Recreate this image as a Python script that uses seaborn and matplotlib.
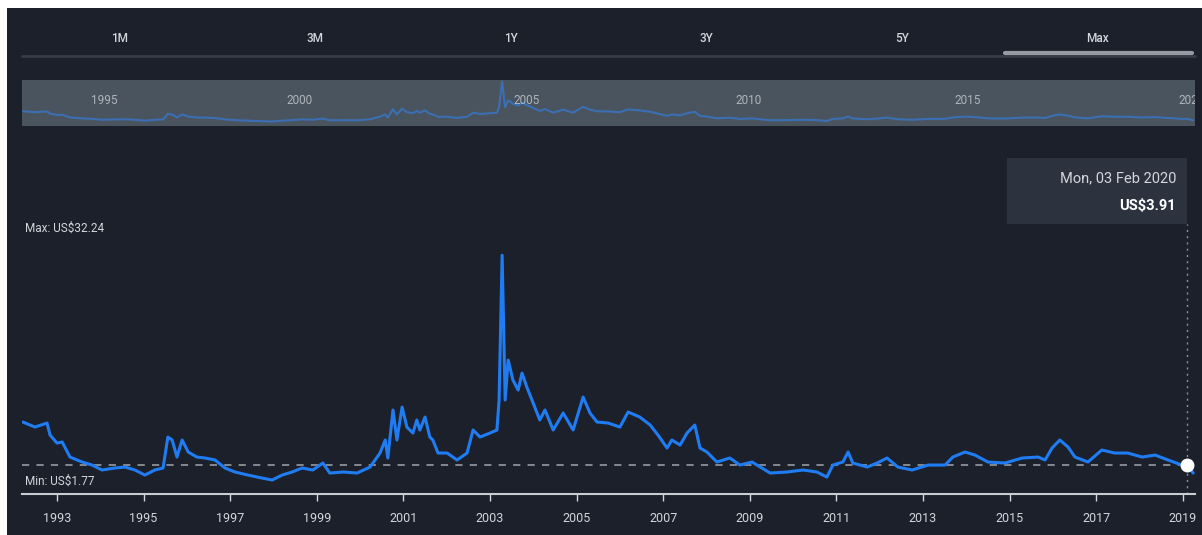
import pandas as pd
import seaborn as sns
import matplotlib.pyplot as plt
from matplotlib.lines import Line2D
from matplotlib.patches import Rectangle

# price history (x = position on the year axis, y = US$)
years = [1992.21, 1992.49, 1992.77, 1992.84, 1993.00, 1993.12, 1993.30, 1993.58, 1993.81, 1994.04,
         1994.34, 1994.57, 1994.80, 1995.03, 1995.26, 1995.45, 1995.56, 1995.66, 1995.77, 1995.89,
         1996.03, 1996.23, 1996.42, 1996.65, 1996.88, 1997.11, 1997.41, 1997.73, 1997.97, 1998.20,
         1998.43, 1998.66, 1998.91, 1999.14, 1999.30, 1999.61, 1999.93, 2000.23, 2000.46, 2000.58,
         2000.64, 2000.76, 2000.85, 2000.97, 2001.08, 2001.22, 2001.31, 2001.38, 2001.50, 2001.61,
         2001.68, 2001.80, 2002.01, 2002.24, 2002.47, 2002.61, 2002.77, 2003.00, 2003.16, 2003.21,
         2003.28, 2003.35, 2003.42, 2003.53, 2003.65, 2003.74, 2003.85, 2003.97, 2004.15, 2004.27,
         2004.46, 2004.69, 2004.92, 2005.15, 2005.31, 2005.47, 2005.73, 2006.00, 2006.19, 2006.46,
         2006.70, 2006.88, 2007.09, 2007.20, 2007.39, 2007.55, 2007.73, 2007.85, 2008.01, 2008.24,
         2008.54, 2008.77, 2009.05, 2009.24, 2009.47, 2009.86, 2010.23, 2010.55, 2010.78, 2010.92,
         2011.15, 2011.27, 2011.38, 2011.71, 2011.94, 2012.17, 2012.42, 2012.75, 2013.12, 2013.51,
         2013.69, 2013.97, 2014.20, 2014.50, 2014.89, 2015.29, 2015.66, 2015.82, 2015.98, 2016.16,
         2016.35, 2016.51, 2016.81, 2017.13, 2017.43, 2017.73, 2018.06, 2018.36, 2018.66, 2018.98,
         2019.10, 2019.24]
price_usd = [9.72, 9.04, 9.58, 7.96, 6.88, 7.02, 4.99, 4.32, 3.91, 3.24,
             3.51, 3.64, 3.24, 2.56, 3.24, 3.51, 7.69, 7.29, 4.99, 7.29,
             5.67, 4.99, 4.86, 4.59, 3.51, 2.97, 2.56, 2.16, 1.89, 2.56,
             2.97, 3.51, 3.24, 4.18, 2.83, 2.97, 2.83, 3.64, 5.53, 7.29,
             4.86, 11.34, 7.29, 11.74, 9.04, 8.23, 9.99, 8.64, 10.39, 7.69,
             7.29, 5.53, 5.53, 4.59, 5.53, 8.64, 7.69, 8.23, 8.64, 12.69,
             32.24, 12.69, 18.08, 15.38, 14.04, 16.33, 14.44, 12.69, 9.99, 11.34,
             8.64, 10.93, 8.64, 13.09, 10.93, 9.72, 9.58, 9.04, 11.07, 10.39,
             9.31, 7.96, 6.21, 7.29, 6.61, 8.23, 9.31, 6.21, 5.67, 4.32,
             4.86, 3.91, 4.32, 3.64, 2.83, 2.97, 3.24, 2.97, 2.29, 3.91,
             4.32, 5.67, 4.18, 3.64, 4.18, 4.86, 3.64, 3.24, 3.91, 3.91,
             4.99, 5.67, 5.26, 4.32, 4.18, 4.86, 4.99, 4.59, 6.21, 7.29,
             6.34, 4.99, 4.32, 5.94, 5.53, 5.53, 4.99, 5.26, 4.59, 3.91,
             3.91, 2.83]

axis_years = list(range(1993, 2020, 2))
nav_labels = ["1995", "2000", "2005", "2010", "2015", "2020"]
nav_label_pos = [1994.1, 1998.6, 2003.85, 2008.96, 2014.04, 2019.2]
range_tabs = ["1M", "3M", "1Y", "3Y", "5Y", "Max"]

hover_year = 2019.10
hover_price = 3.91
max_price = 32.24
min_price = 1.77

df = pd.DataFrame({"year": years, "price": price_usd})

bg = "#1b202b"
text_col = "#d3d6db"
line_col = "#1f7cf2"

sns.set_theme(style="dark")
plt.rcParams["font.family"] = ["Roboto", "DejaVu Sans"]

W, H = 1202, 535
fig = plt.figure(figsize=(W / 100, H / 100), dpi=100, facecolor=bg)
# white margin strips on the left and top of the screenshot
fig.patches.append(Rectangle((0, 0), 7 / W, 1, transform=fig.transFigure,
                             facecolor="white", edgecolor="none", zorder=-5))
fig.patches.append(Rectangle((0, 1 - 8 / H), 1, 8 / H, transform=fig.transFigure,
                             facecolor="white", edgecolor="none", zorder=-5))

x0, x1 = 22, 1195
xmin = 1993 + (x0 - 57) / 43.3
xmax = 1993 + (x1 - 57) / 43.3

# range selector tabs
tab_w = (x1 - x0) / len(range_tabs)
for i, t in enumerate(range_tabs):
    cx = x0 + tab_w * (i + 0.5)
    fig.text(cx / W, 1 - 38 / H, t, color=text_col, fontsize=8.5, fontweight="medium",
             ha="center", va="center")
fig.lines.append(Line2D([x0 / W, x1 / W], [1 - 56 / H] * 2, transform=fig.transFigure,
                        color="#363d48", lw=2))
fig.lines.append(Line2D([(x1 - tab_w + 5) / W, (x1 - 3) / W], [1 - 53 / H] * 2,
                        transform=fig.transFigure, color="#959ba3", lw=3))

# navigator
nav = fig.add_axes([x0 / W, 1 - 126 / H, (x1 - x0) / W, 46 / H])
nav.set_facecolor("#4a545e")
sns.lineplot(data=df, x="year", y="price", ax=nav, color="#3b6fb3", lw=1.5)
nav.set_xlim(xmin, xmax)
nav.set_ylim(-1.5, 33.5)
nav.set_xticks([])
nav.set_yticks([])
nav.set_xlabel("")
nav.set_ylabel("")
for s in nav.spines.values():
    s.set_visible(False)
for lab, pos in zip(nav_labels, nav_label_pos):
    nav.text(pos, 18, lab, color="#aeb4bb", fontsize=8.5, ha="center", va="center", clip_on=True)

# main chart
ax = fig.add_axes([x0 / W, 1 - 494 / H, (x1 - x0) / W, 354 / H])
ax.set_facecolor("none")
sns.lineplot(data=df, x="year", y="price", ax=ax, color=line_col, lw=2.2)
ax.set_xlim(xmin, xmax)
ax.set_ylim(0, 47.8)
ax.set_xlabel("")
ax.set_ylabel("")
ax.set_yticks([])
ax.set_xticks(axis_years)
ax.set_xticklabels([str(y) for y in axis_years])
ax.tick_params(axis="x", bottom=True, colors=text_col, labelsize=9, length=5, width=1,
               direction="out", pad=8)
for name, s in ax.spines.items():
    s.set_visible(name == "bottom")
ax.spines["bottom"].set_color("#c9cdd2")
ax.spines["bottom"].set_linewidth(1.5)
ax.grid(False)

# crosshair and hovered point
ax.plot([xmin, hover_year], [hover_price, hover_price], color="#8c9198", lw=1.3,
        ls=(0, (4, 4)), zorder=1)
ax.plot([hover_year, hover_year], [0, 36.5], color="#8c9198", lw=1, ls=(0, (1.5, 3)), zorder=1)
ax.plot([hover_year], [hover_price], "o", color="white", ms=9, zorder=5)

ax.text(xmin + 0.07, max_price + 3.6, f"Max: US${max_price:.2f}", color=text_col, fontsize=8.5,
        ha="left", va="center")
ax.text(xmin + 0.07, min_price, f"Min: US${min_price:.2f}", color=text_col, fontsize=8.5,
        ha="left", va="center")

# tooltip
fig.patches.append(Rectangle((1007 / W, 1 - 224 / H), 180 / W, 66 / H, transform=fig.transFigure,
                             facecolor="#2d333e", edgecolor="none", zorder=3))
fig.text(1176 / W, 1 - 178 / H, "Mon, 03 Feb 2020", color=text_col, fontsize=10.5,
         ha="right", va="center", zorder=4)
fig.text(1176 / W, 1 - 206 / H, f"US${hover_price:.2f}", color="white", fontsize=10.5,
         fontweight="bold", ha="right", va="center", zorder=4)

fig.savefig("out.png", dpi=100, facecolor=fig.get_facecolor())
